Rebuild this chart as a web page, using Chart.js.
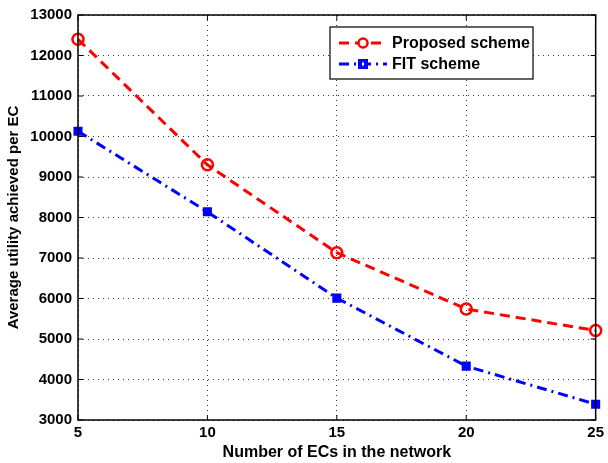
<!DOCTYPE html>
<html>
<head>
<meta charset="utf-8">
<script src="https://cdn.jsdelivr.net/npm/chart.js@4/dist/chart.umd.min.js"></script>
<style>
  html, body { margin: 0; padding: 0; background: #fff; }
  #wrap { width: 608px; height: 463px; }
</style>
</head>
<body>
<div id="wrap"><canvas id="myChart" width="608" height="463"></canvas></div>
<script>
// data
let numECs = [5, 10, 15, 20, 25];
let proposed = [12400, 9300, 7130, 5740, 5210];
let fit = [10130, 8140, 6010, 4330, 3390];
let xTicks = [5, 10, 15, 20, 25];
let yTicks = [3000, 4000, 5000, 6000, 7000, 8000, 9000, 10000, 11000, 12000, 13000];
let seriesNames = ['Proposed scheme', 'FIT scheme'];

let font = 'Liberation Sans, Arial, sans-serif';

// black box round the plot, inner tick marks + matlab style legend
let framePlugin = {
    id: 'frame',
    afterDraw(chart) {
        let ctx = chart.ctx;
        let a = chart.chartArea;
        ctx.save();
        ctx.strokeStyle = '#000';
        ctx.lineWidth = 1.5;
        ctx.strokeRect(a.left, a.top, a.right - a.left, a.bottom - a.top);

        // tick marks pointing in
        ctx.lineWidth = 1;
        ctx.beginPath();
        xTicks.forEach(v => {
            let px = chart.scales.x.getPixelForValue(v);
            ctx.moveTo(px, a.bottom); ctx.lineTo(px, a.bottom - 5);
            ctx.moveTo(px, a.top); ctx.lineTo(px, a.top + 5);
        });
        yTicks.forEach(v => {
            let py = chart.scales.y.getPixelForValue(v);
            ctx.moveTo(a.left, py); ctx.lineTo(a.left + 5, py);
            ctx.moveTo(a.right, py); ctx.lineTo(a.right - 5, py);
        });
        ctx.stroke();

        // legend box
        let lx = 330, ly = 27, lw = 203, lh = 52;
        ctx.fillStyle = '#fff';
        ctx.fillRect(lx, ly, lw, lh);
        ctx.lineWidth = 1.2;
        ctx.strokeRect(lx, ly, lw, lh);

        let rows = [
            { y: 43, color: 'red', dash: [10, 6], style: 'circle' },
            { y: 64, color: 'blue', dash: [10, 5, 2, 5], style: 'rect' }
        ];
        rows.forEach((r, i) => {
            ctx.strokeStyle = r.color;
            ctx.lineWidth = 3;
            ctx.setLineDash(r.dash);
            ctx.beginPath();
            ctx.moveTo(339, r.y);
            ctx.lineTo(387, r.y);
            ctx.stroke();
            ctx.setLineDash([]);
            ctx.lineWidth = 2.5;
            if (r.style == 'circle') {
                ctx.fillStyle = '#fff';
                ctx.beginPath();
                ctx.arc(363, r.y, 4.5, 0, Math.PI * 2);
                ctx.fill();
                ctx.stroke();
            } else {
                ctx.fillStyle = 'blue';
                ctx.fillRect(358, r.y - 5, 10, 10);
                ctx.fillStyle = '#fff';
                ctx.fillRect(362, r.y - 1.5, 2, 3);
            }
            ctx.fillStyle = '#000';
            ctx.font = 'bold 16px ' + font;
            ctx.textBaseline = 'middle';
            ctx.fillText(seriesNames[i], 392, r.y + 1);
        });
        ctx.restore();
    }
};

let ctx = document.getElementById('myChart').getContext('2d');
let xchart = new Chart(ctx, {
    type: 'line',
    data: {
        datasets: [{
            label: seriesNames[0],
            data: numECs.map((x, i) => ({ x: x, y: proposed[i] })),
            borderColor: 'red',
            backgroundColor: '#fff',
            borderWidth: 3,
            borderDash: [10, 6],
            pointStyle: 'circle',
            pointRadius: 5.5,
            pointBorderWidth: 2.5,
            pointBackgroundColor: 'rgba(255,255,255,0)',
            tension: 0
        }, {
            label: seriesNames[1],
            data: numECs.map((x, i) => ({ x: x, y: fit[i] })),
            borderColor: 'blue',
            backgroundColor: 'blue',
            borderWidth: 3,
            borderDash: [10, 5, 2, 5],
            pointStyle: 'rect',
            pointRadius: 5,
            pointBorderWidth: 2,
            pointBackgroundColor: 'blue',
            tension: 0
        }]
    },
    options: {
        responsive: false,
        animation: false,
        clip: false,
        layout: { padding: { top: 11, right: 11, left: 0, bottom: 0 } },
        plugins: {
            legend: { display: false },
            tooltip: { enabled: false }
        },
        scales: {
            x: {
                type: 'linear',
                min: 5,
                max: 25,
                afterBuildTicks: axis => { axis.ticks = xTicks.map(v => ({ value: v })); },
                afterFit: axis => { axis.height = 43; },
                grid: { color: '#333', lineWidth: 1, drawTicks: false },
                border: { display: false, dash: [1, 4] },
                ticks: {
                    color: '#000',
                    padding: 4,
                    callback: v => String(v),
                    font: { family: font, size: 15, weight: 'bold' }
                },
                title: {
                    display: true,
                    text: 'Number of ECs in the network',
                    color: '#000',
                    padding: { top: 0, bottom: 1 },
                    font: { family: font, size: 16, weight: 'bold' }
                }
            },
            y: {
                min: 3000,
                max: 13000,
                afterBuildTicks: axis => { axis.ticks = yTicks.map(v => ({ value: v })); },
                afterFit: axis => { axis.width = 78; },
                grid: { color: '#333', lineWidth: 1, drawTicks: false },
                border: { display: false, dash: [1, 4] },
                ticks: {
                    color: '#000',
                    padding: 6,
                    callback: v => String(v),
                    font: { family: font, size: 15, weight: 'bold' }
                },
                title: {
                    display: true,
                    text: 'Average utility achieved per EC',
                    color: '#000',
                    padding: { top: 5, bottom: 0 },
                    font: { family: font, size: 15, weight: 'bold' }
                }
            }
        }
    },
    plugins: [framePlugin]
});
</script>
</body>
</html>
